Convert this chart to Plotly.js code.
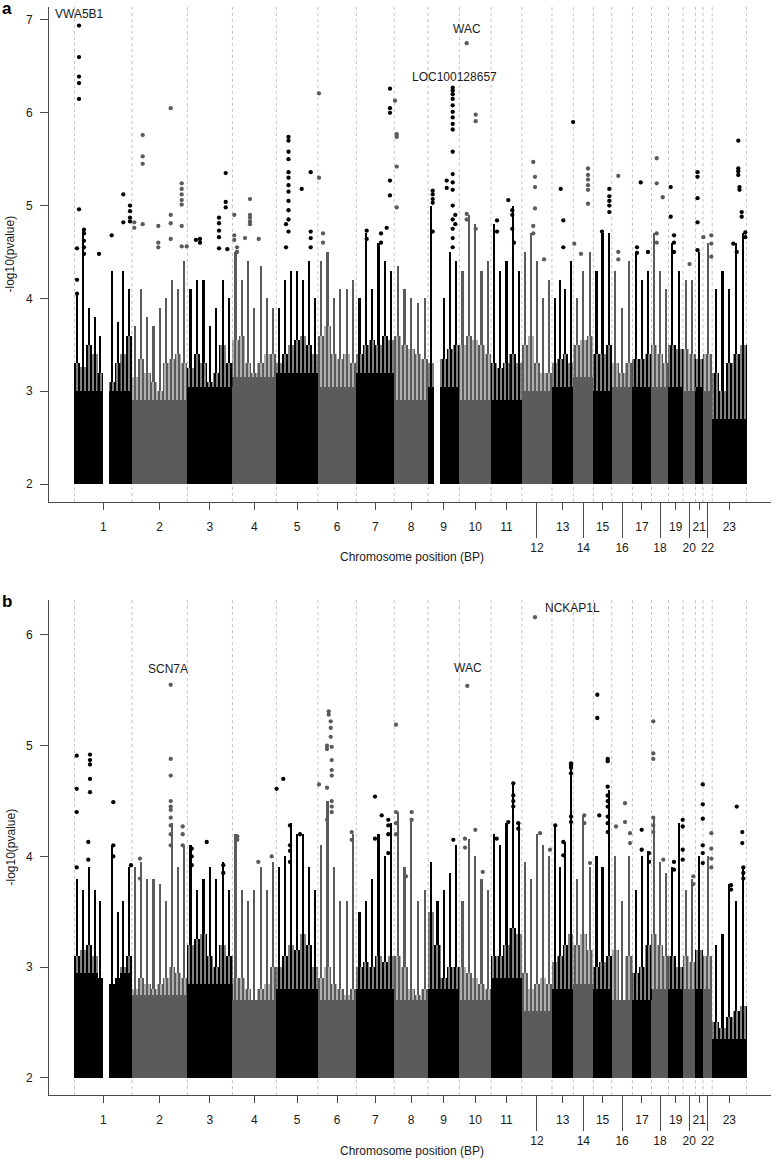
<!DOCTYPE html>
<html><head><meta charset="utf-8">
<script src="https://cdn.plot.ly/plotly-3.0.1.min.js"></script>
<style>html,body{margin:0;padding:0;background:#fff}#chart{width:777px;height:1159px}</style>
</head><body><div id="chart"></div>
<script>
// ---------------- DATA ----------------
const chromosomes = ['1','2','3','4','5','6','7','8','9','10','11','12','13','14','15','16','17','18','19','20','21','22','23'];
// plotted span of each chromosome (Mb, estimated)
const chrLenMb = [250,241,196,191,181,167,165,147,136,138,134,131,93,87,80,90,83,74,63,54,33,40,149];

// Panel a
// level below which the cloud is completely filled, per chromosome
const solidA = [3.0,2.9,3.05,3.15,3.2,3.05,3.2,2.9,3.05,2.9,2.9,3.0,3.05,3.15,3.0,3.05,3.05,3.05,3.05,3.0,3.05,3.0,2.7];
// top of the dense (striped) body, per evenly spaced window
const denseTopA = [
 [3.3,3.26,3.5,3.4,3.2,2.0,3.1,3.3,3.4,3.6],
 [3.15,3.35,3.2,3.1,3.0,3.3,3.35,3.4,3.3],
 [3.25,3.4,3.3,3.1,3.2,3.5,3.3],
 [3.55,3.6,3.3,3.2,3.3,3.4,3.4],
 [3.3,3.4,3.5,3.55,3.6,3.5,3.4],
 [3.6,3.7,3.4,3.35,3.4,3.3],
 [3.4,3.5,3.55,3.5,3.6,3.55],
 [3.6,3.5,3.45,3.4,3.35],
 [3.3,2.0,3.35,3.45,3.5],
 [3.5,3.6,3.55,3.5,3.4],
 [3.3,3.25,3.3,3.4,3.3],
 [3.5,3.6,3.3,3.2,3.2],
 [3.3,3.35,3.4,3.3],
 [3.5,3.55,3.6],
 [3.4,3.4,3.5],
 [3.3,3.2,3.3],
 [3.35,3.35,3.4],
 [3.5,3.4,3.3],
 [3.5,3.45],
 [3.45,3.4],
 [3.35],
 [3.4],
 [3.2,3.0,3.3,3.4,3.5]
];
// top of the tallest dotted column in each window
const streakTopA = [
 [4.05,4.75,3.9,3.8,3.6,2.0,4.3,3.75,4.3,4.1],
 [3.7,4.1,3.8,3.7,3.9,4.0,4.2,4.1,4.4],
 [4.1,4.2,4.2,3.7,3.9,4.2,4.0],
 [4.5,4.2,4.4,3.9,4.35,4.0,3.9],
 [3.9,4.2,4.3,4.3,4.2,4.4,4.0],
 [4.4,4.5,4.0,4.1,4.1,4.2],
 [4.0,4.7,4.1,4.6,4.4,4.3],
 [4.35,4.1,4.0,3.95,4.0],
 [5.0,2.0,4.0,4.5,4.4],
 [4.3,4.9,4.8,4.3,4.4],
 [4.8,4.3,4.4,5.0,4.3],
 [4.5,4.7,4.4,4.0,4.2],
 [4.0,4.2,4.1,4.4],
 [4.0,4.3,4.5],
 [4.3,4.7,4.7],
 [4.3,3.9,4.4],
 [4.5,4.2,4.3],
 [4.7,4.3,4.1],
 [4.6,4.3],
 [4.2,4.2],
 [4.5],
 [4.6],
 [4.1,4.3,4.1,4.6,4.7]
];
// isolated SNPs above the cloud: [chromosome, position within chromosome (Mb), -log10 p values]
const hitsA = [
 [1,19.6,[6.94,6.60,6.39,6.32,6.15,4.96]],[1,41.3,[4.74,4.70,4.62,4.55,4.48]],[1,10.9,[4.54,4.20,4.05]],
 [1,106.6,[4.48]],[1,161.8,[4.68]],[1,212.3,[5.12,4.82]],[1,241.4,[5.00,4.94,4.87,4.83]],
 [2,46.7,[5.76,5.53,5.45,4.80]],[2,168.5,[6.05,4.90,4.81,4.64]],[2,114.5,[4.78,4.60,4.55]],
 [2,216.3,[5.24,5.18,5.12,5.06,5.01,4.78,4.56]],[2,10.1,[4.82,4.76]],[2,238,[4.56]],
 [3,166.7,[5.35,5.04,4.98]],[3,137.6,[4.87,4.81,4.73,4.66,4.54]],[3,37.5,[4.63]],[3,54.9,[4.64,4.60]],[3,173.7,[4.53]],
 [4,8.1,[4.90,4.68,4.63]],[4,76.4,[5.07,4.90,4.87,4.83,4.80]],[4,54.7,[4.65]],[4,114.3,[4.64]],[4,19.9,[4.55,4.50]],
 [5,52.9,[5.74,5.70,5.58,5.50,5.36,5.30,5.22,5.15,5.05,4.95,4.85,4.72]],[5,110.3,[5.18]],[5,149.5,[5.36,4.72,4.65,4.55]],[5,42,[4.80,4.55]],
 [6,4.6,[6.21,5.30]],[6,22,[4.70,4.60]],
 [7,146.4,[6.26,6.05,6.00,5.27,5.11]],[7,132,[4.76]],[7,45,[4.73,4.64]],[7,107.3,[4.70,4.60]],
 [8,3.2,[6.13]],[8,10.6,[5.77,5.74,5.42,4.98]],
 [9,20.2,[5.16,5.12,5.07,5.03,4.72]],[9,81.1,[5.27,5.19]],
 [9,107.2,[6.27,6.24,6.20,6.15,6.08,6.01,5.95,5.88,5.82,5.58,5.34,5.25,5.17,5.00,4.85,4.75,4.65,4.55]],[9,118.5,[4.90,4.80]],
 [10,32.1,[6.75,4.91,4.85]],[10,71.2,[5.98,5.91,4.75]],
 [11,25.9,[4.84,4.72]],[11,75,[5.06]],[11,92.4,[4.95,4.90,4.75]],[11,99.8,[4.60]],
 [12,49.8,[5.47,4.78,4.70]],[12,57.2,[5.31,5.20,4.97]],[12,96.3,[4.42]],
 [13,38,[5.18]],[13,49.3,[4.84,4.55]],[13,92,[5.90]],
 [14,63.7,[5.40,5.33,5.28,5.22,5.17,5.02]],[14,33.3,[4.48]],[14,4.1,[4.59]],
 [15,69.4,[5.18,5.10,5.05,5.00,4.93]],[15,37.6,[4.72]],
 [16,28.5,[5.32,4.50,4.42]],
 [17,36,[5.25]],[17,19.9,[4.55,4.49]],[17,67.7,[4.50]],
 [18,22.6,[5.51,5.24,4.70,4.60]],[18,48.7,[5.09]],
 [19,9.5,[5.20,4.88]],[19,23.8,[4.68,4.60,4.50]],
 [20,28.4,[4.37]],
 [21,9.2,[5.36,5.31,5.08,4.82,4.52]],
 [22,1.5,[4.66]],[22,36.3,[4.68,4.59,4.45]],
 [23,113.5,[5.70,5.40,5.37,5.33]],[23,118.7,[5.20,5.17]],[23,128.3,[4.93,4.88]],[23,144,[4.71,4.66]],[23,91.8,[4.59]],[23,106.6,[4.50]]
];
const genesA = [['VWA5B1',1,19.6,6.94],['WAC',10,32.1,6.75],['LOC100128657',9,107.2,6.27]];

// Panel b
const solidB = [2.95,2.75,2.85,2.7,2.8,2.7,2.8,2.7,2.8,2.7,2.9,2.6,2.8,2.85,2.8,2.7,2.7,2.8,2.8,2.8,2.8,2.8,2.35];
const denseTopB = [
 [3.1,3.15,3.2,3.1,2.9,2.0,2.85,2.9,3.0,3.1],
 [2.8,2.9,2.85,2.8,2.85,2.9,3.0,2.95,2.9],
 [3.2,3.25,3.3,3.1,3.0,3.2,3.1],
 [2.9,2.9,2.8,2.7,2.8,2.85,3.0],
 [3.0,3.1,3.2,3.15,3.3,3.2,3.0],
 [2.9,3.0,2.85,2.8,2.75,2.8],
 [3.0,3.05,3.0,3.1,3.05,3.1],
 [3.1,3.0,2.8,2.75,2.8],
 [3.5,3.2,2.9,3.0,3.0],
 [3.0,2.95,2.9,2.85,2.8],
 [3.1,3.1,3.2,3.35,3.3],
 [2.95,2.8,2.85,2.9,2.85],
 [3.05,3.1,3.2,3.3],
 [3.2,3.3,3.15],
 [3.0,3.05,3.1],
 [3.15,2.7,3.1],
 [2.95,3.0,3.2],
 [3.3,3.2,3.1],
 [3.1,3.0],
 [3.1,3.05],
 [3.15],
 [3.1],
 [2.5,2.45,2.55,2.6,2.65]
];
const streakTopB = [
 [3.8,3.7,3.9,3.7,3.6,2.0,4.1,3.5,3.6,3.9],
 [3.9,3.95,3.8,3.8,3.75,3.6,4.3,3.9,4.1],
 [4.1,3.7,3.8,3.9,3.8,3.95,3.7],
 [4.2,3.7,3.6,3.7,3.9,3.7,3.95],
 [3.9,4.0,4.3,4.2,4.2,3.9,3.7],
 [4.1,4.5,3.9,3.6,3.6,4.2],
 [3.5,3.6,3.8,4.2,4.0,4.3],
 [4.4,3.9,4.35,3.6,3.7],
 [3.95,3.6,3.7,3.85,4.1],
 [3.6,4.16,4.0,3.8,3.7],
 [4.2,4.1,4.3,4.66,4.3],
 [3.95,3.8,4.2,4.1,4.0],
 [4.28,3.9,4.13,4.8],
 [3.8,4.37,3.9],
 [4.0,3.9,4.6],
 [4.0,3.6,4.0],
 [3.7,4.0,4.05],
 [4.35,3.95,3.85],
 [3.9,4.3],
 [3.7,3.8],
 [4.0],
 [4.0],
 [3.2,3.3,3.75,3.6,3.9]
];
const hitsB = [
 [1,9.6,[4.91,4.61,4.40,3.90]],[1,67.4,[4.92,4.87,4.83,4.70,4.58]],[1,60,[4.13,3.97]],[1,168.8,[4.49,4.10,4.00]],[1,245.8,[3.92]],
 [2,168.5,[5.55,4.88,4.73,4.50,4.45,4.42,4.35,4.28,4.20,4.10]],[2,220.7,[4.27,4.20,4.10]],[2,34.9,[3.98,3.80]],
 [3,18.8,[4.07,4.00,3.92]],[3,84.1,[4.13]],[3,156.3,[3.92,3.85]],
 [4,21.2,[4.18,4.15]],[4,112.5,[3.95]],[4,170.8,[4.00]],
 [5,1,[4.61]],[5,30.3,[4.70]],[5,59.4,[4.28,4.10,4.05,3.95]],[5,102.9,[4.20]],
 [6,46.8,[5.31,5.28]],[6,55.5,[5.22,5.16,5.08]],[6,39.4,[5.00,4.97,4.62,4.33]],
 [6,59.8,[4.99,4.87,4.78,4.73,4.50,4.45,4.40]],[6,4.6,[4.65]],[6,146.8,[4.22,4.15]],
 [7,81.2,[4.54,4.16]],[7,110.3,[4.37]],[7,139,[4.33,4.28,4.20,4.03]],
 [8,7.5,[5.19,4.40,4.30,4.20]],[8,75.8,[4.40,4.33]],[8,51,[3.82]],
 [9,109.8,[4.15]],
 [10,34.7,[5.54]],[10,24.7,[4.16,4.08]],[10,69.5,[4.24]],[10,101.7,[3.86]],
 [11,96.8,[4.66,4.55,4.50,4.45]],[11,24.6,[4.16]],[11,75,[4.31]],[11,118.5,[4.30,4.25]],
 [12,57.2,[6.16]],[12,79,[4.21]],[12,122.4,[4.06]],
 [13,82.8,[4.84,4.82,4.80,4.75,4.36,4.31]],[13,49.3,[4.13,4.01]],[13,14.5,[4.28]],
 [14,47.6,[4.37,4.30]],[14,72.4,[3.94]],
 [15,17.2,[5.46,5.25]],[15,62.4,[4.88,4.86,4.63,4.55,4.50,4.45,4.36,4.30,4.22]],[15,25.7,[4.37]],
 [16,57.7,[4.48,4.31]],[16,79.4,[4.21,4.12]],[16,18.5,[4.27]],
 [17,40.3,[4.24,4.06]],[17,72.1,[4.03,3.95]],
 [18,7.8,[5.22,4.93,4.88,4.35,4.28,4.22]],[18,51.3,[3.97]],
 [19,61.7,[4.33,4.27,4.06,3.97]],[19,23.8,[3.95,3.88]],
 [20,44.8,[3.82,3.75]],
 [21,32,[4.65,4.47,4.34,4.10,4.03,3.94]],
 [22,36.3,[4.21,4.07,3.98,3.90]],
 [23,106.6,[4.45]],[23,130.9,[4.22,4.12]],[23,135.3,[3.90,3.85,3.80]],[23,81.8,[3.74,3.70]]
];
const genesB = [['SCN7A',2,168.5,5.55],['WAC',10,34.7,5.54],['NCKAP1L',12,57.2,6.16]];
const yTicksA = [2,3,4,5,6,7];
const yTicksB = [2,3,4,5,6];

// ---------------- STYLE / LAYOUT ----------------
const W = 777, H = 1159;
const BLACK = '#000000', GRAY = '#5b5b5b', AX = '#4a4a4a', TXT = '#1a1a1a';
const FONT = 'Liberation Sans, Arial, sans-serif';
const MB_PER_PX = 4.35;
const plotLeftPx = 49, plotRightPx = 771, firstChrPx = 74.5;
const panelA = {top: 7, bottom: 502};
const panelB = {top: 600, bottom: 1095};
const rangeA = [1.8062, 7.140];
const rangeB = [1.8446, 6.316];
const labelStyleA = [{xs:0, ys:12, xa:'center'},{xs:0, ys:14, xa:'center'},{xs:2, ys:11, xa:'center'}];
const labelStyleB = [{xs:-3, ys:16, xa:'center'},{xs:1, ys:18, xa:'center'},{xs:8, ys:9, xa:'left'}];

const offsets = []; let acc = 0;
chrLenMb.forEach(l => { offsets.push(acc); acc += l; });
const total = acc;
const centers = chrLenMb.map((l, i) => offsets[i] + l / 2);
const colorOf = i => (i % 2 === 0 ? BLACK : GRAY);
const xRange = [-(firstChrPx - plotLeftPx) * MB_PER_PX, (plotRightPx - firstChrPx) * MB_PER_PX];

function cloudTraces(solid, dense, streak, hits, xa, ya) {
  const ax = [], ay = [], aw = [], ac = [];          // solid body
  const bx = [], bb = [], by = [], bw = [], bc = [];  // striped body
  const sx = [], sb = [], sy = [], sc = [];          // tallest column
  dense.forEach((arr, i) => {
    const n = arr.length, w = chrLenMb[i] / n;
    arr.forEach((v, j) => {
      const x = offsets[i] + (j + 0.5) * w;
      if (v <= 2) return;
      const s0 = Math.min(solid[i], v);
      ax.push(x); ay.push(s0 - 2); aw.push(w * 1.03); ac.push(colorOf(i));
      if (v > s0) { bx.push(x); bb.push(s0); by.push(v - s0); bw.push(w * 1.03); bc.push(colorOf(i)); }
      const s = streak[i][j];
      if (s > v) { sx.push(x); sb.push(v); sy.push(s - v); sc.push(colorOf(i)); }
    });
  });
  const px = [], py = [], pc = [];
  hits.forEach(([c, pos, vals]) => {
    vals.forEach(v => { px.push(offsets[c - 1] + pos); py.push(v); pc.push(colorOf(c - 1)); });
  });
  const common = {xaxis: xa, yaxis: ya, hoverinfo: 'skip', showlegend: false};
  return [
    Object.assign({type: 'bar', x: ax, y: ay, base: 2, width: aw, marker: {color: ac, line: {width: 0}}}, common),
    Object.assign({type: 'bar', x: bx, y: by, base: bb, width: bw,
      marker: {color: bc, line: {width: 0},
        pattern: {shape: '|', fgcolor: bc, bgcolor: 'rgba(255,255,255,0)', size: 4, solidity: 0.75}}}, common),
    Object.assign({type: 'bar', x: sx, y: sy, base: sb, width: 2.2 * MB_PER_PX, marker: {color: sc, line: {width: 0}}}, common),
    Object.assign({type: 'scatter', mode: 'markers', x: px, y: py, marker: {color: pc, size: 4.3, line: {width: 0}}}, common)
  ];
}

const traces = [
  ...cloudTraces(solidA, denseTopA, streakTopA, hitsA, 'x', 'y'),
  ...cloudTraces(solidB, denseTopB, streakTopB, hitsB, 'x2', 'y2'),
  // carriers so that the secondary (long-tick) axes get drawn
  {type: 'scatter', mode: 'markers', x: [centers[11]], y: [2], xaxis: 'x3', yaxis: 'y', marker: {opacity: 0}, hoverinfo: 'skip', showlegend: false},
  {type: 'scatter', mode: 'markers', x: [centers[11]], y: [2], xaxis: 'x4', yaxis: 'y2', marker: {opacity: 0}, hoverinfo: 'skip', showlegend: false}
];

const mainIdx = [0,1,2,3,4,5,6,7,8,9,10,12,14,16,18,20,22];
const evenIdx = [11,13,15,17,19,21];
const xDomain = [plotLeftPx / W, plotRightPx / W];
const yDom = p => [1 - p.bottom / H, 1 - p.top / H];

function mainX(anchor) {
  return {domain: xDomain, range: xRange, anchor: anchor, showline: true, linecolor: AX, linewidth: 1,
    ticks: 'outside', ticklen: 7, tickwidth: 1, tickcolor: AX, ticklabelstandoff: 7,
    tickvals: mainIdx.map(i => centers[i]), ticktext: mainIdx.map(i => chromosomes[i]),
    tickfont: {family: FONT, size: 12, color: TXT}, showgrid: false, zeroline: false, fixedrange: true};
}
function evenX(over, anchor) {
  return {overlaying: over, anchor: anchor, range: xRange, showline: false, ticks: 'outside', ticklen: 35,
    tickwidth: 1, tickcolor: AX, ticklabelstandoff: 0,
    tickvals: evenIdx.map(i => centers[i]), ticktext: evenIdx.map(i => chromosomes[i]),
    tickfont: {family: FONT, size: 12, color: TXT}, showgrid: false, zeroline: false, fixedrange: true};
}
function yAx(p, range, ticks, anchor) {
  return {domain: yDom(p), range: range, anchor: anchor, showline: true, linecolor: AX, linewidth: 1,
    ticks: 'outside', ticklen: 8, tickwidth: 1, tickcolor: AX, ticklabelstandoff: 5,
    tickvals: ticks, ticktext: ticks.map(String),
    tickfont: {family: FONT, size: 12, color: TXT}, showgrid: false, zeroline: false, fixedrange: true};
}

const shapes = [];
const bounds = offsets.concat([total]);
[['x', 'y domain'], ['x2', 'y2 domain']].forEach(([xr, yr]) => {
  bounds.forEach(b => shapes.push({type: 'line', xref: xr, yref: yr, x0: b, x1: b, y0: 0, y1: 1, layer: 'below',
    line: {color: '#c4c4c4', width: 1, dash: '3px,3px'}}));
});

const annotations = [];
function geneLabels(genes, styles, xr, yr) {
  genes.forEach(([g, c, pos, v], k) => {
    const st = styles[k];
    annotations.push({text: g, x: offsets[c - 1] + pos, y: v, xref: xr, yref: yr, showarrow: false,
      xanchor: st.xa, yanchor: 'middle', xshift: st.xs, yshift: st.ys, font: {family: FONT, size: 12, color: TXT}});
  });
}
geneLabels(genesA, labelStyleA, 'x', 'y');
geneLabels(genesB, labelStyleB, 'x2', 'y2');
const paperY = py => 1 - py / H;
[[9, 'a'], [601, 'b']].forEach(([py, t]) => annotations.push({text: '<b>' + t + '</b>', x: 0, y: paperY(py), xref: 'paper', yref: 'paper',
  xanchor: 'left', yanchor: 'middle', showarrow: false, font: {family: FONT, size: 17, color: '#000'}}));
[557, 1151].forEach(py => annotations.push({text: 'Chromosome position (BP)', x: 412 / W, y: paperY(py), xref: 'paper', yref: 'paper',
  xanchor: 'center', yanchor: 'middle', showarrow: false, font: {family: FONT, size: 12, color: TXT}}));
[(panelA.top + panelA.bottom) / 2, (panelB.top + panelB.bottom) / 2].forEach(py => annotations.push({text: '-log10(pvalue)',
  x: 10 / W, y: paperY(py), xref: 'paper', yref: 'paper', textangle: -90, xanchor: 'center', yanchor: 'middle',
  showarrow: false, font: {family: FONT, size: 12, color: TXT}}));

const layout = {
  width: W, height: H, margin: {l: 0, r: 0, t: 0, b: 0}, paper_bgcolor: '#fff', plot_bgcolor: 'rgba(0,0,0,0)',
  barmode: 'overlay', bargap: 0, showlegend: false,
  xaxis: mainX('y'), xaxis3: evenX('x', 'y'),
  xaxis2: mainX('y2'), xaxis4: evenX('x2', 'y2'),
  yaxis: yAx(panelA, rangeA, yTicksA, 'x'), yaxis2: yAx(panelB, rangeB, yTicksB, 'x2'),
  shapes: shapes, annotations: annotations, font: {family: FONT}
};
Plotly.newPlot('chart', traces, layout, {displayModeBar: false, staticPlot: true});
</script></body></html>
